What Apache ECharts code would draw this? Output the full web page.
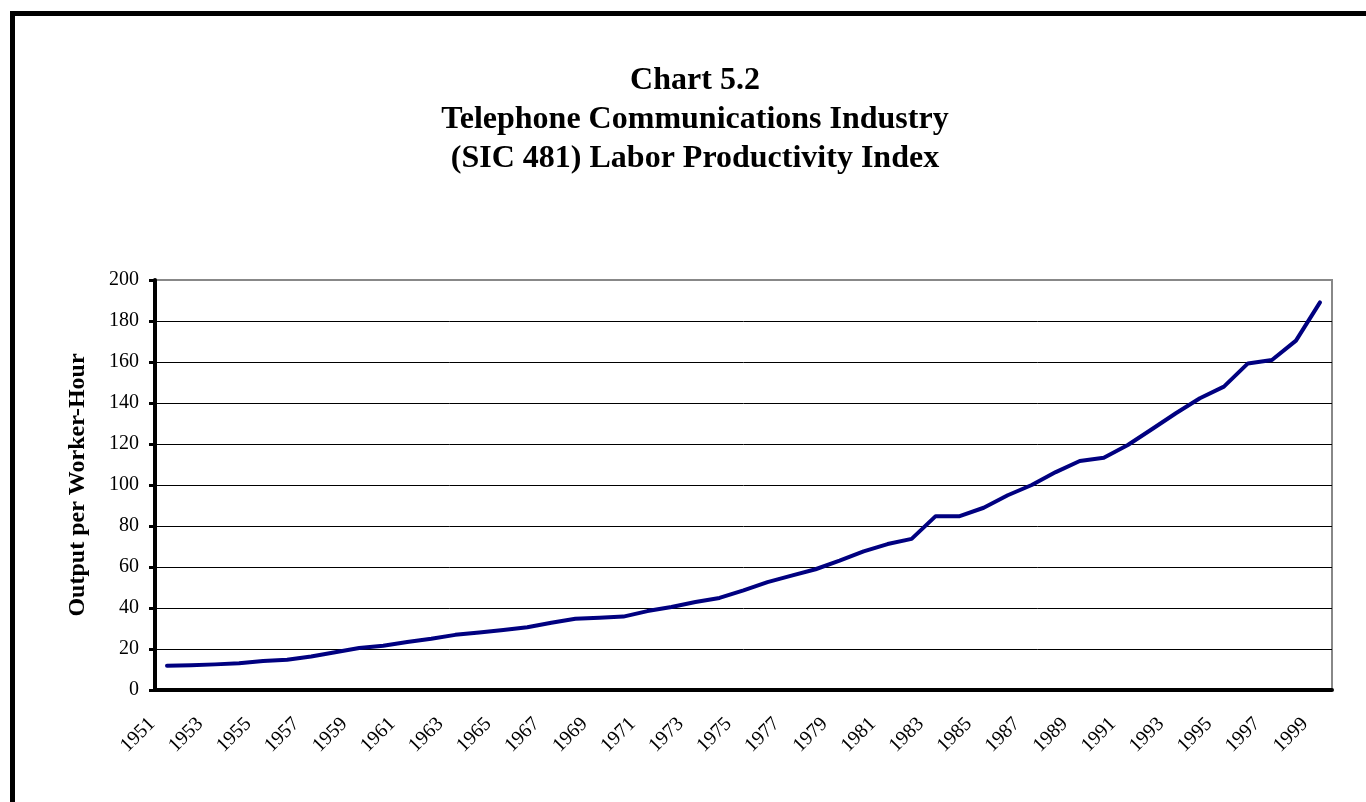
<!DOCTYPE html>
<html>
<head>
<meta charset="utf-8">
<script src="https://cdn.jsdelivr.net/npm/echarts@6/dist/echarts.min.js"></script>
<style>
    html, body { margin: 0; padding: 0; background: #fff; }
    #chart { width: 1366px; height: 802px; }
</style>
</head>
<body>
<div id="chart"></div>
<script>
    var years = [];
    for (var y = 1951; y <= 1999; y++) years.push(String(y));

    var productivity = [
        11.8, 12.1, 12.5, 13.1, 14.2, 14.8, 16.3, 18.4, 20.5, 21.6,
        23.4, 25.0, 26.9, 28.1, 29.3, 30.6, 32.8, 34.8, 35.3, 35.8,
        38.5, 40.5, 42.9, 44.9, 48.6, 52.6, 55.8, 58.9, 63.1, 67.6,
        71.2, 73.7, 84.8, 84.8, 88.9, 95.0, 100.0, 106.3, 111.7, 113.3,
        119.5, 127.2, 135.0, 142.3, 148.0, 159.3, 161.0, 170.4, 189.1
    ];

    var yTicks = { min: 0, max: 200, step: 20 };

    var serif = '"Liberation Serif", "Times New Roman", serif';

    var chartDom = document.getElementById('chart');
    var myChart = echarts.init(chartDom);
    var option;

    // top gridline sits on the grey plot border
    var splitColors = [];
    for (var i = 0; i < 10; i++) splitColors.push('#000');
    splitColors.push('#888');

    option = {
        backgroundColor: '#fff',
        animation: false,
        title: {
            text: 'Chart 5.2\nTelephone Communications Industry\n(SIC 481) Labor Productivity Index',
            left: 690,
            top: 56,
            textAlign: 'center',
            textStyle: {
                fontFamily: serif,
                fontWeight: 'bold',
                fontSize: 32,
                lineHeight: 39,
                color: '#000'
            }
        },
        graphic: [
            {
                type: 'polyline',
                shape: { points: [[12.5, 900], [12.5, 13.5], [1400, 13.5]] },
                style: { stroke: '#000', lineWidth: 5, fill: null },
                silent: true
            }
        ],
        grid: {
            left: 155,
            right: 34,
            top: 280,
            bottom: 112,
            show: true,
            borderColor: '#888',
            borderWidth: 2,
            backgroundColor: '#fff'
        },
        xAxis: {
            type: 'category',
            data: years,
            boundaryGap: true,
            axisLine: { lineStyle: { color: '#000', width: 4 } },
            axisTick: {
                interval: 0,
                length: 6,
                lineStyle: { color: '#000', width: 3 }
            },
            axisLabel: {
                interval: 1,
                rotate: 45,
                margin: 16,
                padding: [0, 21, 0, 0],
                fontFamily: serif,
                fontSize: 20,
                color: '#000'
            },
            splitLine: { show: false }
        },
        yAxis: {
            type: 'value',
            min: yTicks.min,
            max: yTicks.max,
            interval: yTicks.step,
            name: 'Output per Worker-Hour',
            nameLocation: 'middle',
            nameGap: 65,
            nameTextStyle: {
                fontFamily: serif,
                fontWeight: 'bold',
                fontSize: 24,
                color: '#000'
            },
            axisLine: { show: true, lineStyle: { color: '#000', width: 4 } },
            axisTick: {
                show: true,
                length: 6,
                lineStyle: { color: '#000', width: 3 }
            },
            axisLabel: {
                margin: 16,
                fontFamily: serif,
                fontSize: 20,
                color: '#000'
            },
            splitLine: { show: true, lineStyle: { color: splitColors, width: 1 } }
        },
        series: [
            {
                name: 'Labor Productivity',
                type: 'line',
                data: productivity,
                symbol: 'none',
                lineStyle: { color: '#000080', width: 4, cap: 'round', join: 'round' }
            }
        ]
    };

    option && myChart.setOption(option);
</script>
</body>
</html>
